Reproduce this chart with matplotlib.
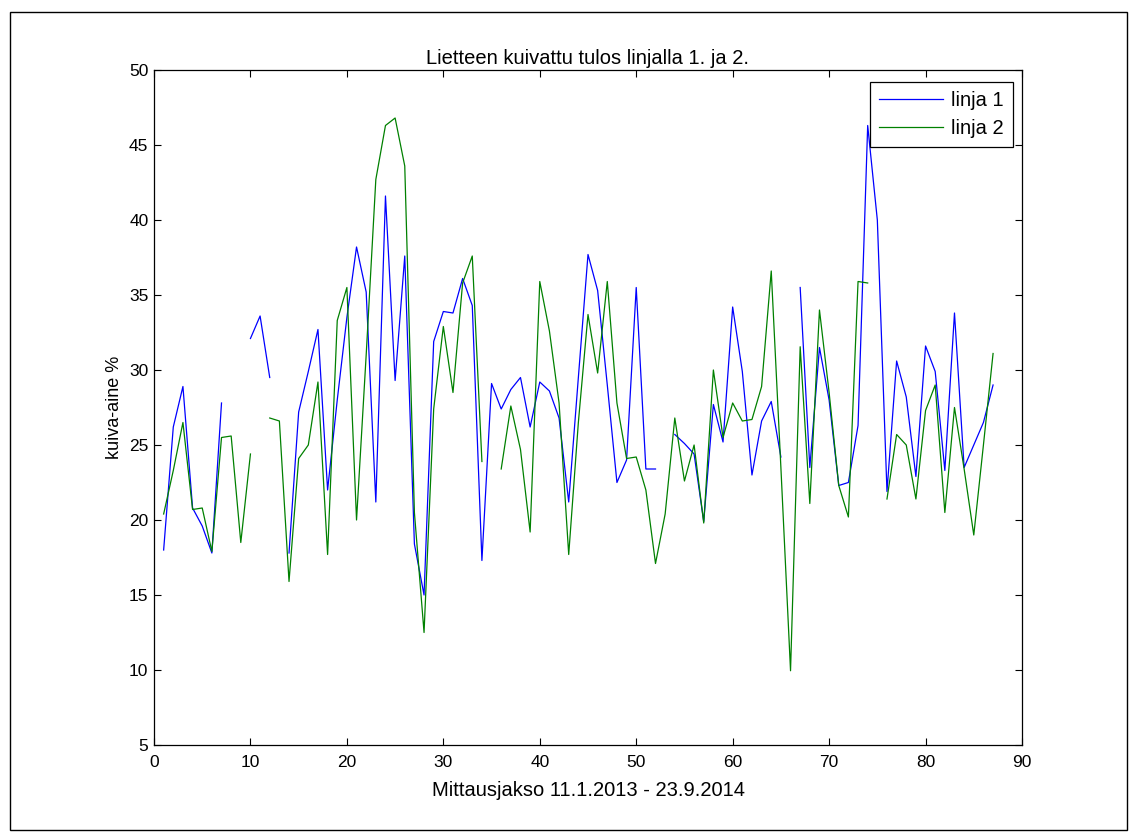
import numpy as np
import matplotlib
matplotlib.use("Agg")
import matplotlib.pyplot as plt
from matplotlib.patches import Rectangle

nan = np.nan
x = np.arange(1, 88)

linja1 = [18.0, 26.2, 28.9, 20.8, 19.6, 17.8, 27.8, nan, nan, 32.1,
          33.6, 29.5, nan, 17.8, 27.2, 29.9, 32.7, 22.0, 28.0, 33.5,
          38.2, 35.2, 21.2, 41.6, 29.3, 37.6, 18.4, 15.0, 31.9, 33.9,
          33.8, 36.1, 34.3, 17.3, 29.1, 27.4, 28.7, 29.5, 26.2, 29.2,
          28.6, 26.8, 21.2, 29.5, 37.7, 35.3, 29.0, 22.5, 24.0, 35.5,
          23.4, 23.4, nan, 25.7, 25.1, 24.4, 19.9, 27.7, 25.2, 34.2,
          29.9, 23.0, 26.6, 27.9, 24.2, nan, 35.5, 23.5, 31.5, 28.0,
          22.3, 22.5, 26.3, 46.3, 40.0, 21.9, 30.6, 28.2, 22.9, 31.6,
          29.9, 23.3, 33.8, 23.5, 25.0, 26.5, 29.0]

linja2 = [20.4, 23.3, 26.5, 20.7, 20.8, 17.9, 25.5, 25.6, 18.5, 24.4,
          nan, 26.8, 26.6, 15.9, 24.1, 25.0, 29.2, 17.7, 33.3, 35.5,
          20.0, 31.0, 42.7, 46.3, 46.8, 43.6, 20.5, 12.5, 27.4, 32.9,
          28.5, 35.8, 37.6, 23.9, nan, 23.4, 27.6, 24.7, 19.2, 35.9,
          32.6, 27.8, 17.7, 26.5, 33.7, 29.8, 35.9, 27.8, 24.1, 24.2,
          22.0, 17.1, 20.4, 26.8, 22.6, 25.0, 19.8, 30.0, 25.5, 27.8,
          26.6, 26.7, 28.9, 36.6, 23.5, 9.95, 31.55, 21.1, 34.0, 28.5,
          22.3, 20.2, 35.9, 35.8, nan, 21.4, 25.7, 25.0, 21.4, 27.3,
          29.0, 20.5, 27.5, 23.4, 19.0, 25.0, 31.1]

labels = ["linja 1", "linja 2"]
title = "Lietteen kuivattu tulos linjalla 1. ja 2."
xlabel = "Mittausjakso 11.1.2013 - 23.9.2014"
ylabel = "kuiva-aine %"
xticks = list(range(0, 91, 10))
yticks = list(range(5, 51, 5))

plt.rcParams['font.family'] = ['Liberation Sans', 'DejaVu Sans']
fs_tick = 12.5
fs_text = 14.5

fig = plt.figure(figsize=(11.3, 8.32), dpi=100)
fig.patches.append(Rectangle((10/1130, 2/832), 1117/1130, 818/832, transform=fig.transFigure,
                             fill=False, edgecolor='black', linewidth=1.0))
ax = fig.add_axes([154/1130, 87/832, 868/1130, 675/832])
ax.plot(x, linja1, color=(0, 0, 1), lw=0.9, label=labels[0])
ax.plot(x, linja2, color=(0, 0.5, 0), lw=0.9, label=labels[1])
ax.set_xlim(0, 90)
ax.set_ylim(5, 50)
ax.set_xticks(xticks)
ax.set_yticks(yticks)
ax.tick_params(direction='in', top=True, right=True, length=5, width=0.8,
               labelsize=fs_tick)
ax.tick_params(axis='x', pad=7)
ax.tick_params(axis='y', pad=4)
for s in ax.spines.values():
    s.set_linewidth(0.9)
ax.set_title(title, fontsize=fs_text, pad=4)
ax.set_xlabel(xlabel, fontsize=fs_text, labelpad=8)
ax.set_ylabel(ylabel, fontsize=13, labelpad=4)
leg = ax.legend(loc='upper right', bbox_to_anchor=(0.9896, 0.982), borderaxespad=0,
                fontsize=fs_text, fancybox=False, framealpha=1, edgecolor='black',
                handlelength=3.2, handletextpad=0.4, borderpad=0.45, labelspacing=0.45)
leg.get_frame().set_linewidth(0.9)

fig.savefig("out.png", dpi=100, facecolor='white')
